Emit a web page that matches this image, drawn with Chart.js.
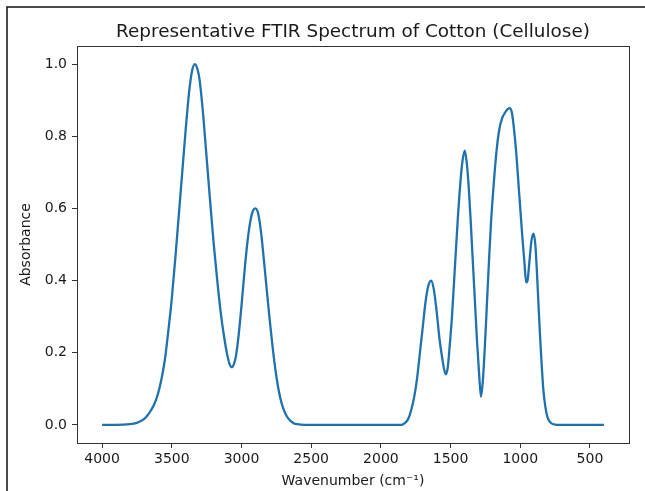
<!DOCTYPE html>
<html>
<head>
<meta charset="utf-8">
<script src="https://cdn.jsdelivr.net/npm/chart.js@4"></script>
<style>
  html, body { margin: 0; padding: 0; background: #fff; }
  #wrap { width: 645px; height: 491px; position: relative; }
</style>
</head>
<body>
<div id="wrap"><canvas id="chart" width="645" height="491"></canvas></div>
<script>
// Spectrum (wavenumber in cm-1, absorbance)
const wavenumbers = [4000, 3900, 3800, 3750, 3725, 3700, 3675, 3650, 3625, 3600, 3575, 3550, 3525, 3500, 3475,
  3450, 3425, 3400, 3375, 3355, 3335, 3315, 3300, 3275, 3250, 3225, 3200, 3175, 3150, 3125, 3100, 3085,
  3070, 3055, 3040, 3020, 3000, 2975, 2950, 2925, 2900, 2880, 2860, 2840, 2820, 2800, 2775, 2750, 2725,
  2700, 2675, 2650, 2625, 2600, 2550,
  1860, 1840, 1820, 1800, 1780, 1760, 1740, 1720, 1700, 1680, 1660, 1640, 1620, 1600, 1580, 1560, 1545,
  1533, 1520, 1505, 1490, 1470, 1450, 1430, 1415, 1398, 1385, 1370, 1355, 1340, 1325, 1310, 1295, 1282,
  1270, 1255, 1240, 1225, 1210, 1190, 1170, 1150, 1130, 1110, 1090, 1075, 1060, 1045, 1030, 1015, 1000,
  985, 970, 958, 948, 935, 920, 905, 892, 880, 870, 860, 850, 835, 820, 805, 790, 770, 750, 730, 400];
const absorbance = [0, 0, 0.002, 0.006, 0.010, 0.016, 0.026, 0.040, 0.058, 0.085, 0.125, 0.18, 0.26, 0.35, 0.46,
  0.58, 0.70, 0.82, 0.925, 0.98, 1.0, 0.985, 0.955, 0.86, 0.74, 0.62, 0.505, 0.405, 0.315, 0.245, 0.19, 0.168,
  0.16, 0.168, 0.19, 0.25, 0.33, 0.44, 0.53, 0.585, 0.60, 0.585, 0.535, 0.46, 0.38, 0.30, 0.21, 0.135, 0.08,
  0.045, 0.024, 0.012, 0.005, 0.002, 0,
  0, 0.002, 0.008, 0.02, 0.045, 0.08, 0.13, 0.20, 0.27, 0.34, 0.385, 0.40, 0.375, 0.315, 0.24, 0.185, 0.152,
  0.14, 0.16, 0.225, 0.30, 0.43, 0.56, 0.67, 0.73, 0.76, 0.73, 0.66, 0.56, 0.45, 0.34, 0.23, 0.14, 0.078,
  0.115, 0.21, 0.33, 0.45, 0.56, 0.67, 0.76, 0.82, 0.85, 0.865, 0.875, 0.878, 0.865, 0.82, 0.76, 0.68, 0.60,
  0.52, 0.45, 0.395, 0.40, 0.45, 0.51, 0.53, 0.50, 0.42, 0.34, 0.26, 0.19, 0.10, 0.05, 0.022, 0.01, 0.003, 0.001, 0, 0];

const xTicks = [4000, 3500, 3000, 2500, 2000, 1500, 1000, 500];
const yTicks = [0, 0.2, 0.4, 0.6, 0.8, 1.0];

const chartTitle = 'Representative FTIR Spectrum of Cotton (Cellulose)';
const xLabel = 'Wavenumber (cm\u207B\u00B9)';
const yLabel = 'Absorbance';

const FONT = '"DejaVu Sans", sans-serif';
const textColor = '#1a1a1a';
const lineColor = '#1f72ad';

// frame around the plot, the outer box edge and the title
const framePlugin = {
  id: 'framePlugin',
  afterDraw(chart) {
    const c = chart.ctx;
    const a = chart.chartArea;
    c.save();
    c.strokeStyle = '#333';
    c.lineWidth = 1;
    c.strokeRect(Math.round(a.left) + 0.5, Math.round(a.top) + 0.5,
      Math.round(a.right - a.left), Math.round(a.bottom - a.top));

    // outer screenshot edge (left and top)
    c.strokeStyle = '#111';
    c.lineWidth = 1.5;
    c.beginPath();
    c.moveTo(7, 491);
    c.lineTo(7, 7);
    c.lineTo(645, 7);
    c.stroke();

    c.fillStyle = textColor;
    c.font = '18.4px ' + FONT;
    c.textAlign = 'center';
    c.textBaseline = 'alphabetic';
    c.fillText(chartTitle, (a.left + a.right) / 2, 37);
    c.restore();
  }
};

const ctx = document.getElementById('chart').getContext('2d');
new Chart(ctx, {
  type: 'line',
  data: {
    datasets: [{
      data: wavenumbers.map((w, i) => ({ x: w, y: absorbance[i] })),
      borderColor: lineColor,
      borderWidth: 2.3,
      pointRadius: 0,
      fill: false,
      cubicInterpolationMode: 'monotone'
    }]
  },
  options: {
    responsive: false,
    animation: false,
    devicePixelRatio: 1,
    layout: { padding: { top: 46, right: 16, bottom: 0, left: 0 } },
    plugins: {
      legend: { display: false },
      tooltip: { enabled: false }
    },
    scales: {
      x: {
        type: 'linear',
        reverse: true,
        min: 220,
        max: 4180,
        afterFit: (s) => { s.height = 48; },
        afterBuildTicks: (s) => { s.ticks = xTicks.map(v => ({ value: v })); },
        border: { display: false },
        grid: { drawOnChartArea: false, drawTicks: true, tickLength: 5, color: '#333' },
        ticks: { color: textColor, font: { family: FONT, size: 14 }, padding: 3, maxRotation: 0,
          callback: (v) => String(v) },
        title: { display: true, text: xLabel, color: textColor, font: { family: FONT, size: 14 },
          padding: { top: 0, bottom: 1 } }
      },
      y: {
        type: 'linear',
        min: -0.05,
        max: 1.05,
        afterFit: (s) => { s.width = 77; },
        afterBuildTicks: (s) => { s.ticks = yTicks.map(v => ({ value: v })); },
        border: { display: false },
        grid: { drawOnChartArea: false, drawTicks: true, tickLength: 5, color: '#333' },
        ticks: { color: textColor, font: { family: FONT, size: 14 }, padding: 5,
          callback: (v) => Number(v).toFixed(1) },
        title: { display: true, text: yLabel, color: textColor, font: { family: FONT, size: 14 },
          padding: { top: 18, bottom: 0 } }
      }
    }
  },
  plugins: [framePlugin]
});
</script>
</body>
</html>
